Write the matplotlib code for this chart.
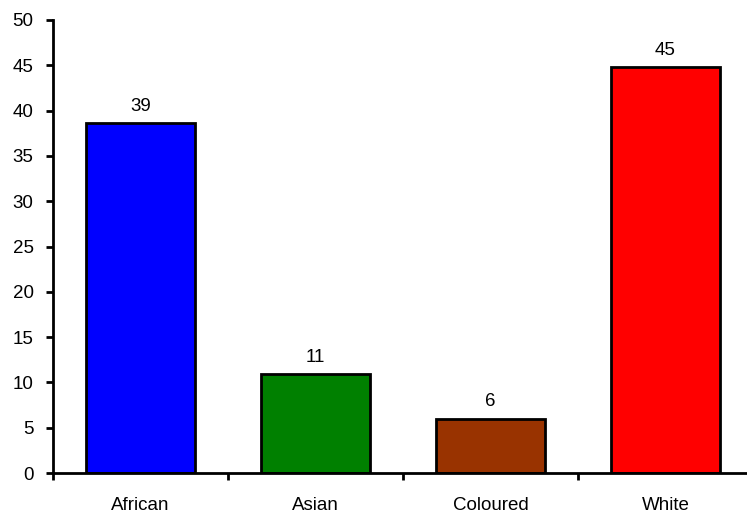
import matplotlib.pyplot as plt
import numpy as np

categories = ["African", "Asian", "Coloured", "White"]
values = [38.6, 10.9, 6.0, 44.8]
labels = ["39", "11", "6", "45"]
colors = ["#0000FF", "#008000", "#993300", "#FF0000"]

plt.rcParams["font.family"] = ["Liberation Sans", "DejaVu Sans"]

fig = plt.figure(figsize=(7.47, 5.18), dpi=100)
ax = fig.add_axes([53 / 747, 45 / 518, 700 / 747, 453 / 518])

x = np.arange(len(categories))
bars = ax.bar(x, values, width=0.62, color=colors, edgecolor="black", linewidth=2)

for bar, lab in zip(bars, labels):
    ax.annotate(lab, (bar.get_x() + bar.get_width() / 2, bar.get_height()),
                xytext=(0, 6), textcoords="offset points",
                ha="center", va="bottom", fontsize=13.5)

ax.set_xlim(-0.5, len(categories) - 0.5)
ax.set_ylim(0, 50)
ax.set_yticks(np.arange(0, 51, 5))
ax.set_xticks(x)
ax.set_xticklabels(categories)
ax.set_xticks(np.arange(-0.5, len(categories), 1), minor=True)

ax.spines["top"].set_visible(False)
ax.spines["right"].set_visible(False)
ax.spines["left"].set_linewidth(2)
ax.spines["bottom"].set_linewidth(2)

ax.tick_params(axis="y", direction="out", length=5, width=2, pad=9, labelsize=13.5)
ax.tick_params(axis="x", which="major", length=0, pad=17, labelsize=13.5)
ax.tick_params(axis="x", which="minor", direction="out", length=5, width=2)

fig.savefig("out.png", dpi=100)
